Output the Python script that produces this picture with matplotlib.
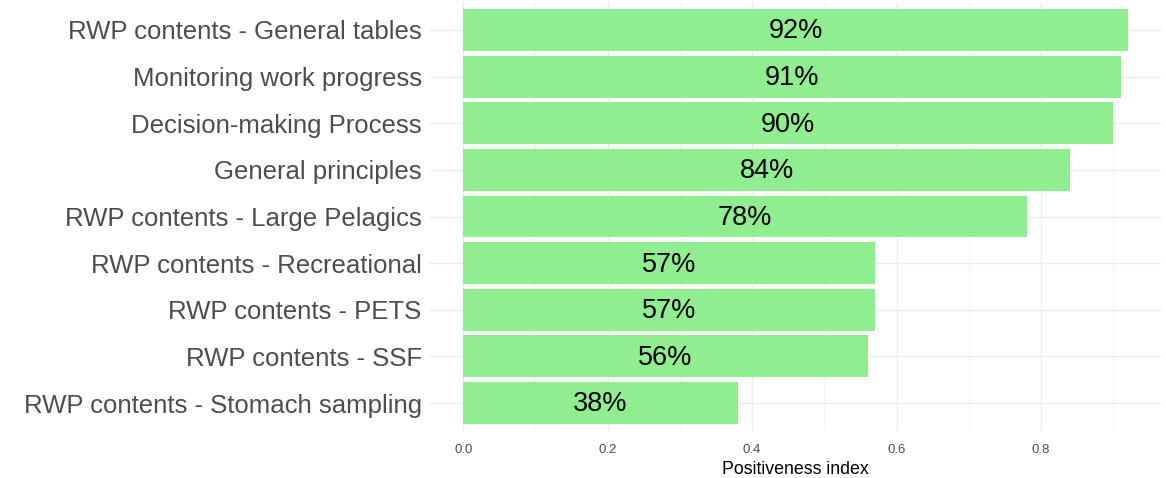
import matplotlib
matplotlib.use("Agg")
import matplotlib.pyplot as plt
from matplotlib.ticker import MultipleLocator

categories = ["RWP contents - General tables", "Monitoring work progress", "Decision-making Process",
              "General principles", "RWP contents - Large Pelagics", "RWP contents - Recreational",
              "RWP contents - PETS", "RWP contents - SSF", "RWP contents - Stomach sampling"]
values = [0.92, 0.91, 0.90, 0.84, 0.78, 0.57, 0.57, 0.56, 0.38]
x_ticks = [0.0, 0.2, 0.4, 0.6, 0.8]
x_label = "Positiveness index"

plt.rcParams['font.family'] = ['Liberation Sans', 'DejaVu Sans']

fig = plt.figure(figsize=(11.66, 4.78), dpi=100)
ax = fig.add_axes([0.3688, 0.0983, 0.9957 - 0.3688, 0.9958 - 0.0983])

n = len(categories)
ypos = list(range(n, 0, -1))
ax.barh(ypos, values, height=0.9, color='#90EE90', zorder=2)
for y, v in zip(ypos, values):
    ax.text(v / 2, y - 0.03, f"{round(v*100)}%", ha='center', va='center', fontsize=19.5, color='black', zorder=3)

vmax = max(values)
ax.set_xlim(-0.05 * vmax, vmax * 1.05)
ax.set_ylim(0.4, n + 0.6)
ax.set_yticks(ypos)
ax.set_yticklabels(categories, fontsize=18.5, color='#4D4D4D')
ax.set_xticks(x_ticks)
ax.set_xticklabels([f"{t:.1f}" for t in x_ticks], fontsize=9.5, color='#4D4D4D')
ax.xaxis.set_minor_locator(MultipleLocator(0.1))
ax.set_xlabel(x_label, fontsize=12.8, color='black', labelpad=4)

ax.grid(True, which='major', color='#EBEBEB', linewidth=1.0, zorder=0)
ax.grid(True, which='minor', axis='x', color='#F2F2F2', linewidth=0.6, zorder=0)
ax.set_axisbelow(True)
for s in ax.spines.values():
    s.set_visible(False)
ax.tick_params(which='both', length=0)
ax.tick_params(axis='x', pad=9)
ax.tick_params(axis='y', pad=6)

fig.savefig("out.png", dpi=100, facecolor='white')
